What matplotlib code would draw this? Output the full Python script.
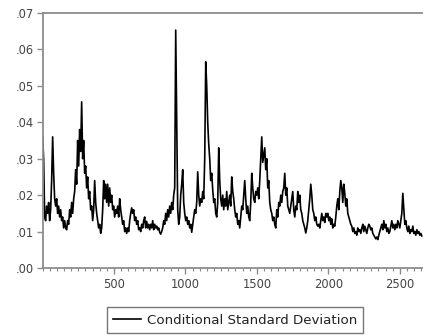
import numpy as np
import matplotlib
matplotlib.use("Agg")
import matplotlib.pyplot as plt
from matplotlib.ticker import MultipleLocator, FuncFormatter

# Conditional standard deviation, read every 7th observation
cond_sd = [
    0.036, 0.030, 0.014, 0.013, 0.017, 0.015, 0.018, 0.013, 0.016, 0.024,
    0.036, 0.026, 0.019, 0.017, 0.019, 0.015, 0.017, 0.014, 0.016, 0.013,
    0.014, 0.011, 0.013, 0.011, 0.0105, 0.013, 0.012, 0.016, 0.014, 0.018,
    0.015, 0.019, 0.021, 0.027, 0.023, 0.035, 0.028, 0.038, 0.032, 0.0456,
    0.030, 0.035, 0.026, 0.028, 0.022, 0.025, 0.019, 0.021, 0.016, 0.017,
    0.013, 0.016, 0.024, 0.018, 0.015, 0.013, 0.011, 0.012, 0.0095, 0.011,
    0.016, 0.024, 0.019, 0.023, 0.018, 0.023, 0.017, 0.022, 0.018, 0.020,
    0.016, 0.017, 0.014, 0.016, 0.015, 0.017, 0.014, 0.019, 0.016, 0.014,
    0.012, 0.013, 0.010, 0.011, 0.0095, 0.011, 0.010, 0.013, 0.015, 0.0165,
    0.015, 0.016, 0.013, 0.014, 0.012, 0.013, 0.0105, 0.011, 0.010, 0.012,
    0.011, 0.013, 0.014, 0.011, 0.0128, 0.011, 0.012, 0.0105, 0.012, 0.011,
    0.013, 0.0105, 0.012, 0.011, 0.0115, 0.0105, 0.011, 0.0098, 0.0093, 0.010,
    0.011, 0.013, 0.012, 0.015, 0.013, 0.016, 0.014, 0.017, 0.015, 0.018,
    0.016, 0.020, 0.022, 0.0653, 0.040, 0.016, 0.012, 0.014, 0.020, 0.023,
    0.027, 0.018, 0.015, 0.013, 0.014, 0.012, 0.013, 0.011, 0.012, 0.0098,
    0.012, 0.014, 0.016, 0.015, 0.018, 0.0264, 0.020, 0.017, 0.019, 0.018,
    0.021, 0.019, 0.030, 0.0566, 0.050, 0.040, 0.034, 0.030, 0.024, 0.026,
    0.0214, 0.018, 0.019, 0.015, 0.014, 0.018, 0.033, 0.024, 0.019, 0.017,
    0.020, 0.016, 0.019, 0.017, 0.021, 0.016, 0.018, 0.020, 0.017, 0.025,
    0.021, 0.019, 0.016, 0.014, 0.015, 0.012, 0.013, 0.011, 0.014, 0.017,
    0.016, 0.020, 0.024, 0.019, 0.015, 0.017, 0.014, 0.013, 0.018, 0.026,
    0.022, 0.019, 0.018, 0.021, 0.020, 0.022, 0.019, 0.024, 0.030, 0.036,
    0.029, 0.031, 0.033, 0.027, 0.030, 0.022, 0.024, 0.018, 0.016, 0.015,
    0.013, 0.014, 0.012, 0.011, 0.016, 0.014, 0.018, 0.017, 0.020, 0.018,
    0.021, 0.022, 0.026, 0.020, 0.022, 0.017, 0.016, 0.015, 0.017, 0.019,
    0.021, 0.016, 0.014, 0.017, 0.016, 0.021, 0.018, 0.020, 0.016, 0.015,
    0.013, 0.012, 0.011, 0.0096, 0.011, 0.013, 0.016, 0.019, 0.023, 0.020,
    0.016, 0.015, 0.013, 0.014, 0.012, 0.0115, 0.012, 0.011, 0.013, 0.015,
    0.013, 0.014, 0.0125, 0.015, 0.014, 0.015, 0.013, 0.014, 0.012, 0.0135,
    0.011, 0.012, 0.0115, 0.014, 0.017, 0.019, 0.016, 0.021, 0.024, 0.022,
    0.018, 0.023, 0.0205, 0.017, 0.019, 0.015, 0.014, 0.013, 0.012, 0.0115,
    0.010, 0.011, 0.0095, 0.010, 0.009, 0.011, 0.010, 0.0105, 0.0095, 0.011,
    0.012, 0.010, 0.0115, 0.0105, 0.0095, 0.011, 0.012, 0.0115, 0.0105, 0.011,
    0.0095, 0.009, 0.0085, 0.008, 0.0085, 0.0078, 0.009, 0.010, 0.011, 0.012,
    0.0105, 0.013, 0.011, 0.012, 0.010, 0.011, 0.0095, 0.010, 0.0115, 0.013,
    0.011, 0.012, 0.0105, 0.012, 0.011, 0.013, 0.012, 0.011, 0.013, 0.015,
    0.0205, 0.016, 0.012, 0.013, 0.011, 0.010, 0.0115, 0.0095, 0.0105, 0.010,
    0.0115, 0.0095, 0.010, 0.009, 0.0105, 0.0095, 0.010, 0.009, 0.0095, 0.0088,
]
obs = 1 + 7 * np.arange(len(cond_sd))
series_label = "Conditional Standard Deviation"
y_ticks = [0.00, 0.01, 0.02, 0.03, 0.04, 0.05, 0.06, 0.07]
x_ticks = [500, 1000, 1500, 2000, 2500]

plt.rcParams['font.family'] = ['DejaVu Sans']

fig = plt.figure(figsize=(4.23, 3.36), dpi=100)
ax = fig.add_axes([42.5 / 423, 68 / 336, 1 - 42.5 / 423 + 0.006, 255 / 336])

ax.plot(obs, cond_sd, color='black', lw=1.2, label=series_label)

ax.set_xlim(0, 2680)
ax.set_ylim(0, 0.07)
ax.set_yticks(y_ticks)
ax.yaxis.set_major_formatter(FuncFormatter(lambda v, p: ("%.2f" % v)[1:]))
ax.set_xticks(x_ticks)
ax.xaxis.set_minor_locator(MultipleLocator(50))

spine_col = '#8c8c8c'
for s in ax.spines.values():
    s.set_color(spine_col)
    s.set_linewidth(1.3)

ax.tick_params(axis='both', which='major', direction='out', length=4,
               width=1.0, color=spine_col, labelsize=8.3, labelcolor='#444444', pad=2)
ax.tick_params(axis='x', which='major', pad=3)
ax.tick_params(axis='x', which='minor', direction='out', length=2.5,
               width=0.8, color=spine_col)

leg = fig.legend(loc='center', bbox_to_anchor=(235 / 423, 1 - 320 / 336),
                 frameon=True, fancybox=False, fontsize=9.6, handlelength=2.1,
                 borderpad=0.5, handletextpad=0.4, borderaxespad=0)
leg.get_frame().set_edgecolor('#555555')
leg.get_frame().set_linewidth(1.0)
for t in leg.get_texts():
    t.set_color('#222222')

fig.savefig('out.png', dpi=100)
